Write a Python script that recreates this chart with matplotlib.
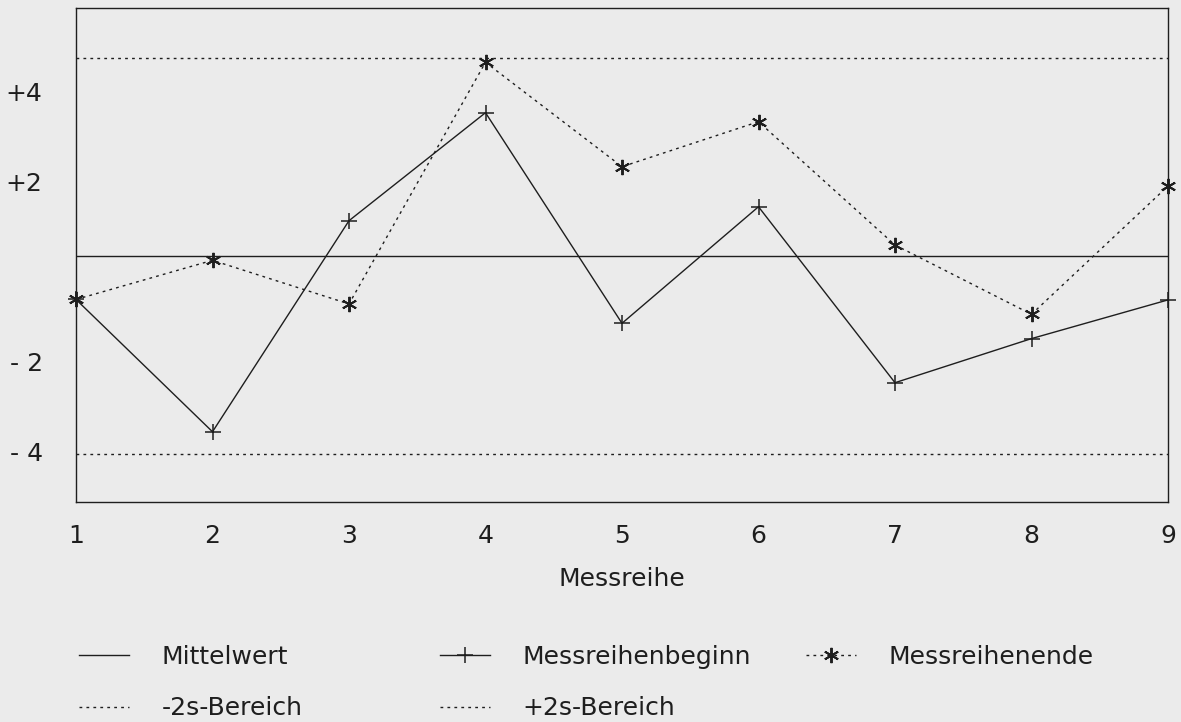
"""
Messreihen-Verlauf: Beginn/Ende je Messreihe um den Mittelwert mit 2s-Bereich.
"""

import matplotlib
matplotlib.use("Agg")
import matplotlib.pyplot as plt
from matplotlib.lines import Line2D
from matplotlib.transforms import ScaledTranslation

# Daten
messreihe = [1, 2, 3, 4, 5, 6, 7, 8, 9]
beginn = [-0.97, -3.91, 0.78, 3.18, -1.50, 1.09, -2.82, -1.84, -0.98]
ende = [-0.97, -0.10, -1.07, 4.30, 1.98, 2.98, 0.24, -1.30, 1.55]
mittelwert = 0.0
zwei_s = 4.4

y_ticks = [4, 2, -2, -4]
y_ticklabels = ["+4", "+2", "- 2", "- 4"]
x_ticklabels = ["1", "2", "3", "4", "5", "6", "7", "8", "9"]

PAPER = "#ebebeb"
INK = "#1e1e1e"
DOTS = (0, (2, 3))
STAR = (6, 2, 0)
FONT_SIZE = 18

W, H = 1181, 722

plt.rcParams["font.family"] = ["DejaVu Sans"]

fig = plt.figure(figsize=(W / 100, H / 100), dpi=100, facecolor=PAPER)
ax = fig.add_axes([76 / W, 1 - 501.5 / H, (1168 - 76) / W, (501.5 - 8.3) / H],
                  facecolor=PAPER)

ax.axhline(mittelwert, color=INK, lw=1.0)
ax.axhline(zwei_s, color=INK, lw=1.0, ls=DOTS)
ax.axhline(-zwei_s, color=INK, lw=1.0, ls=DOTS)

ax.plot(messreihe, beginn, color=INK, lw=1.0, marker="+", ms=11, mew=1.1,
        clip_on=False, zorder=3)
ax.plot(messreihe, ende, color=INK, lw=1.0, ls=DOTS, marker=STAR, ms=11,
        mew=1.4, clip_on=False, zorder=3)

ax.set_xlim(1, 9)
ax.set_ylim(-5.46, 5.5)

ax.set_xticks(messreihe, x_ticklabels)
ax.set_yticks(y_ticks, y_ticklabels)
ax.tick_params(axis="both", length=0, labelsize=FONT_SIZE, colors=INK)
ax.tick_params(axis="x", pad=16)
ax.tick_params(axis="y", pad=24)

# Beschriftungen der y-Achse sitzen in der Vorlage etwas tiefer
offset = ScaledTranslation(0, -0.16, fig.dpi_scale_trans)
for lab in ax.get_yticklabels():
    lab.set_transform(lab.get_transform() + offset)

for spine in ax.spines.values():
    spine.set_color(INK)
    spine.set_linewidth(1.0)

ax.set_xlabel("Messreihe", fontsize=FONT_SIZE, color=INK, labelpad=14)

# Legende in drei Spalten
h_mittel = Line2D([], [], color=INK, lw=1.0)
h_beginn = Line2D([], [], color=INK, lw=1.0, marker="+", ms=11, mew=1.1)
h_ende = Line2D([], [], color=INK, lw=1.0, ls=DOTS, marker=STAR, ms=11, mew=1.4)
h_minus = Line2D([], [], color=INK, lw=1.0, ls=DOTS)
h_plus = Line2D([], [], color=INK, lw=1.0, ls=DOTS)

legend_cols = [
    ([h_mittel, h_minus], ["Mittelwert", "-2s-Bereich"], 79),
    ([h_beginn, h_plus], ["Messreihenbeginn", "+2s-Bereich"], 440),
    ([h_ende], ["Messreihenende"], 806),
]
for handles, labels, x_px in legend_cols:
    leg = fig.legend(
        handles,
        labels,
        loc="upper left",
        bbox_to_anchor=(x_px / W, 1 - 645 / H),
        frameon=False,
        fontsize=FONT_SIZE,
        handlelength=2.0,
        handletextpad=1.3,
        labelspacing=1.09,
        borderpad=0,
        borderaxespad=0,
        numpoints=1,
    )
    for txt in leg.get_texts():
        txt.set_color(INK)

fig.savefig("out.png", dpi=100, facecolor=fig.get_facecolor())
